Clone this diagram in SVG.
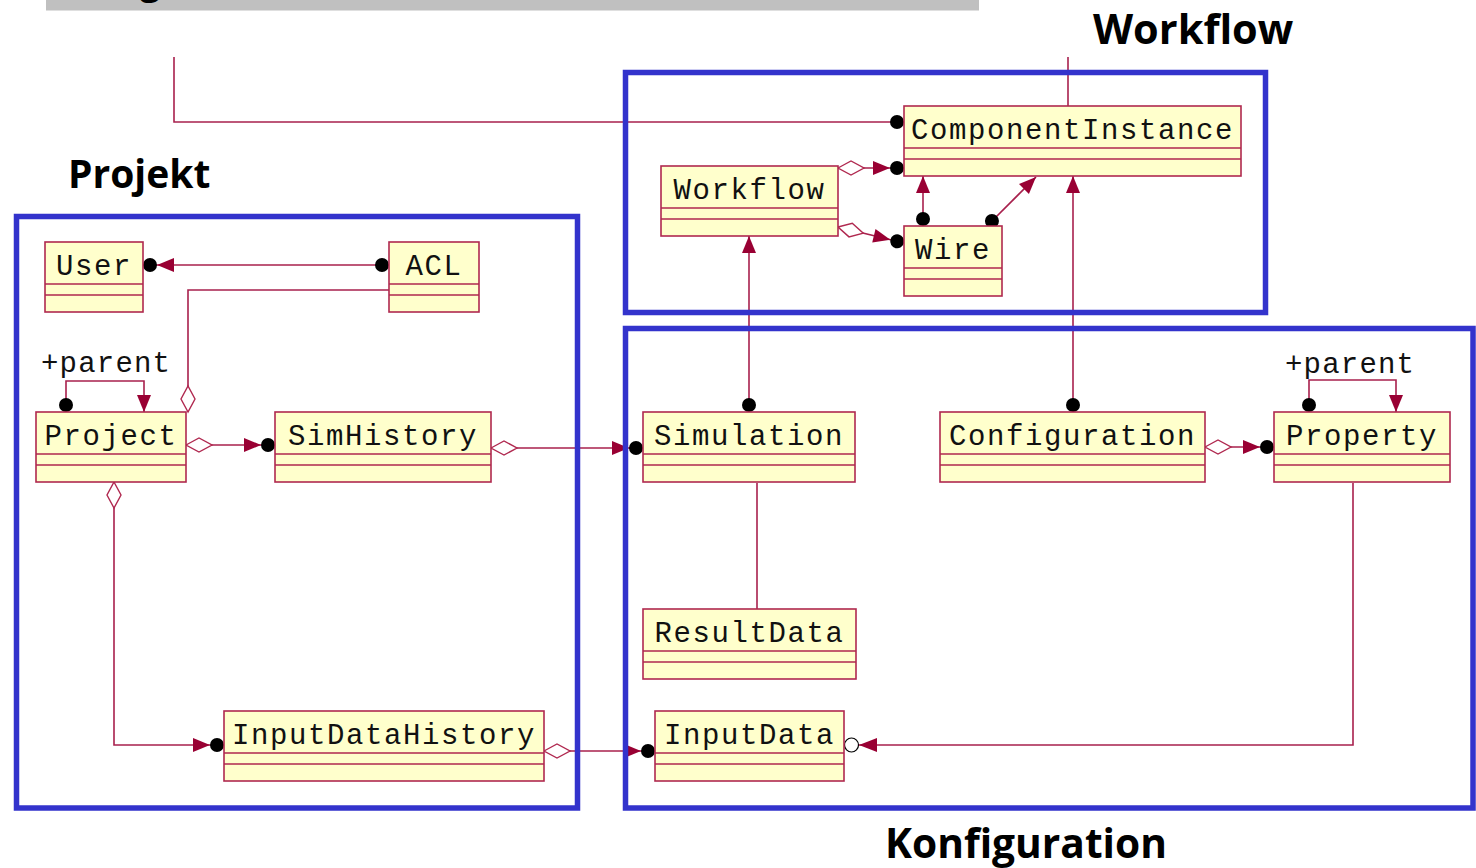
<svg xmlns="http://www.w3.org/2000/svg" width="1476" height="868" viewBox="0 0 1476 868">
  <style>
    .box { fill: #ffffcc; stroke: #b0284f; stroke-width: 1.6; }
    .sep { stroke: #b0284f; stroke-width: 1.6; }
    .name { font-family: "Liberation Mono", "DejaVu Sans Mono", monospace; font-size: 29px; letter-spacing: 1.6px; fill: #111; text-anchor: middle; }
    .role { font-family: "Liberation Mono", "DejaVu Sans Mono", monospace; font-size: 29px; letter-spacing: 1.2px; fill: #111; }
    .conn { fill: none; stroke: #a8204d; stroke-width: 1.6; }
    .frame { fill: none; stroke: #3333cc; stroke-width: 5.5; }
    .title { font-family: "Open Sans", "Noto Sans", "Liberation Sans", sans-serif; font-weight: bold; font-size: 40px; fill: #000; }
  </style>
  <defs>
    <!-- filled end-of-role dot, placed just outside the box -->
    <marker id="dotStart" markerUnits="userSpaceOnUse" orient="auto" overflow="visible" markerWidth="1" markerHeight="1">
      <circle cx="7" cy="0" r="7" fill="#000"/>
    </marker>
    <marker id="dotEnd" markerUnits="userSpaceOnUse" orient="auto" overflow="visible" markerWidth="1" markerHeight="1">
      <circle cx="-7" cy="0" r="7" fill="#000"/>
    </marker>
    <!-- hollow aggregation diamond at the owning side -->
    <marker id="diamond" markerUnits="userSpaceOnUse" orient="auto" overflow="visible" markerWidth="1" markerHeight="1">
      <polygon points="0,0 13,-7 26,0 13,7" fill="#fff" stroke="#b0284f" stroke-width="1.4"/>
    </marker>
    <!-- navigation arrow -->
    <marker id="arrow" markerUnits="userSpaceOnUse" orient="auto" overflow="visible" markerWidth="1" markerHeight="1">
      <polygon points="0,0 -17,-7 -17,7" fill="#990033"/>
    </marker>
    <!-- navigation arrow followed by a role dot -->
    <marker id="dotArrow" markerUnits="userSpaceOnUse" orient="auto" overflow="visible" markerWidth="1" markerHeight="1">
      <polygon points="-14,0 -31,-7 -31,7" fill="#990033"/>
      <circle cx="-7" cy="0" r="7" fill="#000"/>
    </marker>
    <!-- navigation arrow followed by an open role circle -->
    <marker id="ringArrow" markerUnits="userSpaceOnUse" orient="auto" overflow="visible" markerWidth="1" markerHeight="1">
      <polygon points="-15,0 -33,-7 -33,7" fill="#990033"/>
      <circle cx="-7.5" cy="0" r="7" fill="#fff" stroke="#000" stroke-width="1.2"/>
    </marker>
  </defs>

  <!-- header strip -->
  <rect x="46" y="0" width="933" height="10.5" fill="#c0c0c0"/>
  <text x="140" y="-6" style="font-family:'Open Sans','Liberation Sans',sans-serif;font-weight:bold;font-size:36px" fill="#000">g</text>

  <!-- associations -->
  <g id="connectors">
    <path class="conn" d="M174,57 V122 H904" marker-end="url(#dotEnd)"/>
    <path class="conn" d="M1068,57 V106"/>
    <path class="conn" d="M389,265 H143" marker-start="url(#dotStart)" marker-end="url(#dotArrow)"/>
    <path class="conn" d="M188,412 V290 H389" marker-start="url(#diamond)"/>
    <path class="conn" d="M66,412 V381 H144 V412" marker-start="url(#dotStart)" marker-end="url(#arrow)"/>
    <path class="conn" d="M186,445 H275" marker-start="url(#diamond)" marker-end="url(#dotArrow)"/>
    <path class="conn" d="M491,448 H643" marker-start="url(#diamond)" marker-end="url(#dotArrow)"/>
    <path class="conn" d="M114,482 V745 H224" marker-start="url(#diamond)" marker-end="url(#dotArrow)"/>
    <path class="conn" d="M544,751 H655" marker-start="url(#diamond)" marker-end="url(#dotArrow)"/>
    <path class="conn" d="M757,483 V609"/>
    <path class="conn" d="M749,412 V236" marker-start="url(#dotStart)" marker-end="url(#arrow)"/>
    <path class="conn" d="M1073,412 V176" marker-start="url(#dotStart)" marker-end="url(#arrow)"/>
    <path class="conn" d="M1205,447 H1274" marker-start="url(#diamond)" marker-end="url(#dotArrow)"/>
    <path class="conn" d="M1309,412 V380 H1396 V412" marker-start="url(#dotStart)" marker-end="url(#arrow)"/>
    <path class="conn" d="M1353,483 V745 H844" marker-end="url(#ringArrow)"/>
    <path class="conn" d="M838,168 H904" marker-start="url(#diamond)" marker-end="url(#dotArrow)"/>
    <path class="conn" d="M838,227 L904,243" marker-start="url(#diamond)" marker-end="url(#dotArrow)"/>
    <path class="conn" d="M923,226 V176" marker-start="url(#dotStart)" marker-end="url(#arrow)"/>
    <path class="conn" d="M987,226 L1036,177" marker-start="url(#dotStart)" marker-end="url(#arrow)"/>
  </g>

  <!-- role labels -->
  <text class="role" x="41" y="372">+parent</text>
  <text class="role" x="1285" y="373">+parent</text>

  <!-- classes -->
  <g id="User">
    <rect class="box" x="45" y="242" width="98" height="70"/>
    <path class="sep" d="M45,284 H143 M45,295 H143"/>
    <text class="name" x="94" y="275">User</text>
  </g>
  <g id="ACL">
    <rect class="box" x="389" y="242" width="90" height="70"/>
    <path class="sep" d="M389,284 H479 M389,295 H479"/>
    <text class="name" x="434" y="275">ACL</text>
  </g>
  <g id="Project">
    <rect class="box" x="36" y="412" width="150" height="70"/>
    <path class="sep" d="M36,454 H186 M36,465 H186"/>
    <text class="name" x="111" y="445">Project</text>
  </g>
  <g id="SimHistory">
    <rect class="box" x="275" y="412" width="216" height="70"/>
    <path class="sep" d="M275,454 H491 M275,465 H491"/>
    <text class="name" x="383" y="445">SimHistory</text>
  </g>
  <g id="InputDataHistory">
    <rect class="box" x="224" y="711" width="320" height="70"/>
    <path class="sep" d="M224,753 H544 M224,764 H544"/>
    <text class="name" x="384" y="744">InputDataHistory</text>
  </g>
  <g id="Workflow">
    <rect class="box" x="661" y="166" width="177" height="70"/>
    <path class="sep" d="M661,208 H838 M661,219 H838"/>
    <text class="name" x="749.5" y="199">Workflow</text>
  </g>
  <g id="ComponentInstance">
    <rect class="box" x="904" y="106" width="337" height="70"/>
    <path class="sep" d="M904,148 H1241 M904,159 H1241"/>
    <text class="name" x="1072.5" y="139">ComponentInstance</text>
  </g>
  <g id="Wire">
    <rect class="box" x="904" y="226" width="98" height="70"/>
    <path class="sep" d="M904,268 H1002 M904,279 H1002"/>
    <text class="name" x="953" y="259">Wire</text>
  </g>
  <g id="Simulation">
    <rect class="box" x="643" y="412" width="212" height="70"/>
    <path class="sep" d="M643,454 H855 M643,465 H855"/>
    <text class="name" x="749" y="445">Simulation</text>
  </g>
  <g id="Configuration">
    <rect class="box" x="940" y="412" width="265" height="70"/>
    <path class="sep" d="M940,454 H1205 M940,465 H1205"/>
    <text class="name" x="1072.5" y="445">Configuration</text>
  </g>
  <g id="Property">
    <rect class="box" x="1274" y="412" width="176" height="70"/>
    <path class="sep" d="M1274,454 H1450 M1274,465 H1450"/>
    <text class="name" x="1362" y="445">Property</text>
  </g>
  <g id="ResultData">
    <rect class="box" x="643" y="609" width="213" height="70"/>
    <path class="sep" d="M643,651 H856 M643,662 H856"/>
    <text class="name" x="749.5" y="642">ResultData</text>
  </g>
  <g id="InputData">
    <rect class="box" x="655" y="711" width="189" height="70"/>
    <path class="sep" d="M655,753 H844 M655,764 H844"/>
    <text class="name" x="749.5" y="744">InputData</text>
  </g>

  <!-- package frames -->
  <rect class="frame" x="16.5" y="216.5" width="561" height="591.5"/>
  <rect class="frame" x="625.5" y="72.5" width="640" height="240"/>
  <rect class="frame" x="625.5" y="328.5" width="847.5" height="479.5"/>

  <!-- package titles -->
  <text class="title" x="68" y="188" style="font-size:39px">Projekt</text>
  <text class="title" x="1093" y="44" style="font-size:41.5px">Workflow</text>
  <text class="title" x="885" y="858" style="font-size:40.7px">Konfiguration</text>
</svg>
